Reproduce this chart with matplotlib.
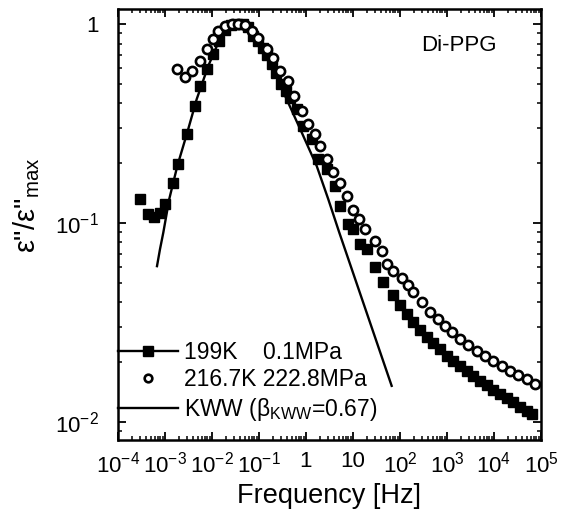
import matplotlib
matplotlib.use('Agg')
import matplotlib.pyplot as plt
from matplotlib.lines import Line2D
from matplotlib.ticker import LogLocator, NullFormatter

# ---------------- data ----------------
# 199 K, 0.1 MPa  (filled squares)
sq_f = [2.94e-4, 4.42e-4, 5.92e-4, 7.83e-4, 1.0e-3, 1.46e-3, 1.92e-3, 2.90e-3,
        4.35e-3, 5.56e-3, 7.71e-3, 1.07e-2, 1.41e-2, 1.89e-2, 2.54e-2, 3.40e-2,
        4.57e-2, 5.83e-2, 7.57e-2, 9.53e-2, 0.123, 0.148, 0.186, 0.230, 0.294,
        0.375, 0.457, 0.634, 0.877, 1.32, 1.83, 2.76, 4.14, 5.29, 7.94, 10.1,
        14.1, 19.5, 29.4, 44.2, 71.0, 100, 141, 189, 267, 375, 504, 710, 1000,
        1343, 1892, 2667, 3573, 5035, 7096, 9520, 13430, 18920, 25370, 35730,
        50350, 64400]
sq_v = [0.132, 0.111, 0.107, 0.113, 0.125, 0.160, 0.198, 0.280, 0.389, 0.490,
        0.594, 0.706, 0.822, 0.933, 0.989, 1.0, 1.0, 0.966, 0.873, 0.822, 0.764,
        0.698, 0.629, 0.567, 0.500, 0.461, 0.428, 0.374, 0.308, 0.264, 0.210,
        0.187, 0.154, 0.122, 0.0989, 0.0933, 0.0785, 0.0740, 0.0600, 0.0504,
        0.0435, 0.0387, 0.0349, 0.0318, 0.0290, 0.0267, 0.0249, 0.0233, 0.0215,
        0.0202, 0.0191, 0.0180, 0.0170, 0.0161, 0.0153, 0.0145, 0.0138, 0.0132,
        0.0126, 0.0119, 0.0114, 0.0110]

# 216.7 K, 222.8 MPa  (open circles)
ci_f = [1.77e-3, 2.67e-3, 3.70e-3, 5.56e-3, 7.94e-3, 1.07e-2, 1.36e-2, 1.89e-2,
        2.62e-2, 3.63e-2, 5.04e-2, 7.0e-2, 9.67e-2, 0.146, 0.201, 0.280, 0.420,
        0.556, 0.811, 1.12, 1.55, 1.99, 2.76, 3.81, 5.28, 7.34, 10.1, 13.5, 18.0,
        29.4, 40.8, 52.1, 72.0, 109, 145, 192, 290, 435, 653, 906, 1259, 1892,
        2838, 4285, 6442, 9660, 14580, 21900, 32900, 49600, 74500]
ci_v = [0.594, 0.546, 0.582, 0.654, 0.755, 0.841, 0.925, 0.981, 1.0, 1.0, 0.989,
        0.925, 0.857, 0.748, 0.680, 0.582, 0.519, 0.436, 0.367, 0.315, 0.280,
        0.245, 0.210, 0.180, 0.160, 0.137, 0.117, 0.105, 0.0933, 0.0815, 0.0726,
        0.0622, 0.0576, 0.0533, 0.0490, 0.0449, 0.0400, 0.0356, 0.0330, 0.0305,
        0.0282, 0.0261, 0.0244, 0.0228, 0.0215, 0.0203, 0.0192, 0.0181, 0.0172,
        0.0164, 0.0155]

# KWW fit curve (beta = 0.67)
kww_f = [6.76e-4, 7.83e-4, 9.21e-4, 1.23e-3, 1.83e-3, 2.98e-3, 4.72e-3, 8.34e-3,
         1.36e-2, 2.42e-2, 3.63e-2, 6.44e-2, 0.105, 0.186, 0.388, 0.811, 1.69,
         2.98, 5.11, 66.5]
kww_v = [0.0608, 0.0740, 0.0897, 0.132, 0.194, 0.286, 0.420, 0.618, 0.809, 0.964,
         1.0, 0.944, 0.809, 0.618, 0.420, 0.286, 0.194, 0.132, 0.0897, 0.0152]

labels = ['199K    0.1MPa', '216.7K 222.8MPa', 'KWW (β$_{\\mathregular{KWW}}$=0.67)']

x_ticks = [1e-4, 1e-3, 1e-2, 1e-1, 1, 10, 1e2, 1e3, 1e4, 1e5]
x_tick_labels = ['$\\mathregular{10^{-4}}$', '$\\mathregular{10^{-3}}$',
                 '$\\mathregular{10^{-2}}$', '$\\mathregular{10^{-1}}$', '1', '10',
                 '$\\mathregular{10^{2}}$', '$\\mathregular{10^{3}}$',
                 '$\\mathregular{10^{4}}$', '$\\mathregular{10^{5}}$']
y_ticks = [1e-2, 1e-1, 1]
y_tick_labels = ['$\\mathregular{10^{-2}}$', '$\\mathregular{10^{-1}}$', '1']

# ---------------- style ----------------
plt.rcParams['font.family'] = ['Liberation Sans', 'DejaVu Sans']
plt.rcParams['mathtext.fontset'] = 'custom'
plt.rcParams['mathtext.rm'] = 'Liberation Sans'
plt.rcParams['mathtext.it'] = 'Liberation Sans:italic'
plt.rcParams['mathtext.bf'] = 'Liberation Sans:bold'

fig = plt.figure(figsize=(5.7, 5.18), dpi=100)
ax = fig.add_axes([0.2070, 0.1506, 0.7421, 0.8314])

ax.plot(kww_f, kww_v, '-', color='k', lw=1.7, zorder=2)
ax.plot(sq_f, sq_v, 's', ms=7.8, color='k', ls='none', zorder=3)
ax.plot(ci_f, ci_v, 'o', ms=6.6, mfc='white', mec='k', mew=1.9, ls='none', zorder=4)

ax.set_xscale('log')
ax.set_yscale('log')
ax.set_xlim(1e-4, 1e5)
ax.set_ylim(0.00812, 1.19)

ax.set_xticks(x_ticks, x_tick_labels)
ax.set_yticks(y_ticks, y_tick_labels)
ax.xaxis.set_minor_locator(LogLocator(base=10, subs=range(2, 10), numticks=100))
ax.yaxis.set_minor_locator(LogLocator(base=10, subs=range(2, 10), numticks=100))
ax.xaxis.set_minor_formatter(NullFormatter())
ax.yaxis.set_minor_formatter(NullFormatter())

ax.tick_params(which='both', direction='in', top=True, right=True)
ax.tick_params(which='major', length=6, width=1.3, labelsize=16)
ax.tick_params(which='minor', length=3, width=1.1)
ax.tick_params(axis='y', which='major', pad=14)
ax.tick_params(axis='x', which='major', pad=8)
for s in ax.spines.values():
    s.set_linewidth(1.8)

ax.set_xlabel('Frequency [Hz]', fontsize=19.5)
ax.xaxis.set_label_coords(0.5, -0.10)
ax.set_ylabel('ε"/ε"$_{\\mathregular{max}}$', fontsize=21)
ax.yaxis.set_label_coords(-0.18, 0.545)

ax.text(0.896, 0.915, 'Di-PPG', transform=ax.transAxes, ha='right', va='center',
        fontsize=16)

h1 = Line2D([], [], color='k', marker='s', ms=7.8, lw=1.7)
h2 = Line2D([], [], color='k', marker='o', ls='none', mfc='white', mew=1.9, ms=5.5)
h3 = Line2D([], [], color='k', lw=1.7)
ax.legend([h1, h2, h3], labels, loc='lower left', bbox_to_anchor=(0.0, 0.04),
          frameon=False, fontsize=16.5, handlelength=2.6, handletextpad=0.3,
          labelspacing=0.2, borderpad=0, borderaxespad=0)

fig.savefig('out.png', dpi=100)
